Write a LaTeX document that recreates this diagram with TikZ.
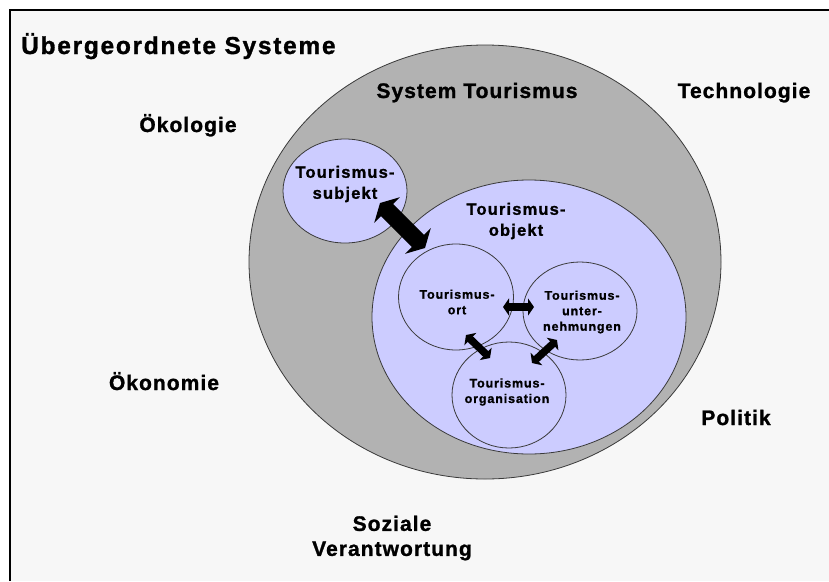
\documentclass[tikz,border=0pt]{standalone}
\usepackage{fontspec}
\setmainfont{Liberation Sans}
\newfontfamily\titlefont[LetterSpace=7, BoldFeatures={FakeBold=1.2}]{Liberation Sans}
\newfontfamily\labfont[LetterSpace=5, BoldFeatures={FakeBold=1.2}]{Liberation Sans}
\newfontfamily\innerfont[LetterSpace=7, BoldFeatures={FakeBold=1.2}]{Liberation Sans}
\usetikzlibrary{shapes.geometric,arrows.meta}
\definecolor{pagebg}{HTML}{F7F7F7}
\definecolor{sysgray}{HTML}{B2B2B2}
\definecolor{lavender}{HTML}{CCCCFF}
\definecolor{rim}{HTML}{3A3A3A}
\begin{document}
\begin{tikzpicture}[x=1pt,y=-1pt,
  oval/.style={ellipse, draw=rim, line width=0.8pt, inner sep=0pt},
  bigtext/.style={font=\fontsize{21}{25}\selectfont\labfont\bfseries, align=center, inner sep=0pt},
  midtext/.style={font=\fontsize{16.5}{21}\selectfont\innerfont\bfseries, align=center, inner sep=0pt},
  smalltext/.style={font=\fontsize{12.5}{15.5}\selectfont\innerfont\bfseries, align=center, inner sep=0pt},
  bigarrow/.style={line width=17pt, black, {Triangle[length=10pt,width=36pt]}-{Triangle[length=10pt,width=36pt]}},
  smallarrow/.style={line width=7.5pt, black, {Triangle[length=6pt,width=17pt]}-{Triangle[length=6pt,width=17pt]}}]
\useasboundingbox (0,0) rectangle (829,581);
% page and frame
\fill[white] (0,0) rectangle (829,581);
\fill[pagebg] (10,10) rectangle (829,581);
\draw[black, line width=1.3pt] (10,581) -- (10,10) -- (829,10);

% systems
\node[oval, fill=sysgray, minimum width=472pt, minimum height=434pt] (sys) at (485,262) {};
\node[oval, fill=lavender, minimum width=124pt, minimum height=104pt] (subj) at (345,191) {};
\node[oval, fill=lavender, minimum width=314pt, minimum height=274pt] (obj) at (529,317) {};
\node[oval, fill=lavender, minimum width=115pt, minimum height=106pt] (ort) at (456,297) {};
\node[oval, fill=lavender, minimum width=114pt, minimum height=98pt] (unt) at (580,311) {};
\node[oval, fill=lavender, minimum width=114pt, minimum height=106pt] (org) at (509,395) {};

% labels
\node[anchor=base west, inner sep=0pt, font=\fontsize{24.5}{28}\selectfont\titlefont\bfseries] (title) at (21,54) {Übergeordnete Systeme};
\node[bigtext, anchor=base] (systour) at (477,98) {System Tourismus};
\node[bigtext, anchor=base] (tech) at (744,98) {Technologie};
\node[bigtext, anchor=base] (oeko) at (188,132) {Ökologie};
\node[bigtext, anchor=base] (oekon) at (164,390) {Ökonomie};
\node[bigtext, anchor=base] (pol) at (736,425) {Politik};
\node[bigtext] (soz) at (392,538) {Soziale\\Verantwortung};

\node[midtext] (subjtext) at (345,184) {Tourismus-\\subjekt};
\node[midtext] (objtext) at (516,221) {Tourismus-\\objekt};
\node[smalltext] (orttext) at (457,302) {Tourismus-\\ort};
\node[smalltext] (unttext) at (582,312) {Tourismus-\\unter-\\nehmungen};
\node[smalltext] (orgtext) at (507,392) {Tourismus-\\organisation};

% relations
\coordinate (sa) at (380,203);
\coordinate (oa) at (425,248);
\draw[bigarrow] (sa) -- (oa);
\coordinate (ou1) at (503,307);
\coordinate (ou2) at (534,307);
\draw[smallarrow] (ou1) -- (ou2);
\coordinate (oo1) at (466,335);
\coordinate (oo2) at (490,358);
\draw[smallarrow] (oo1) -- (oo2);
\coordinate (uo1) at (557,340);
\coordinate (uo2) at (532,363);
\draw[smallarrow] (uo1) -- (uo2);
\end{tikzpicture}
\end{document}
